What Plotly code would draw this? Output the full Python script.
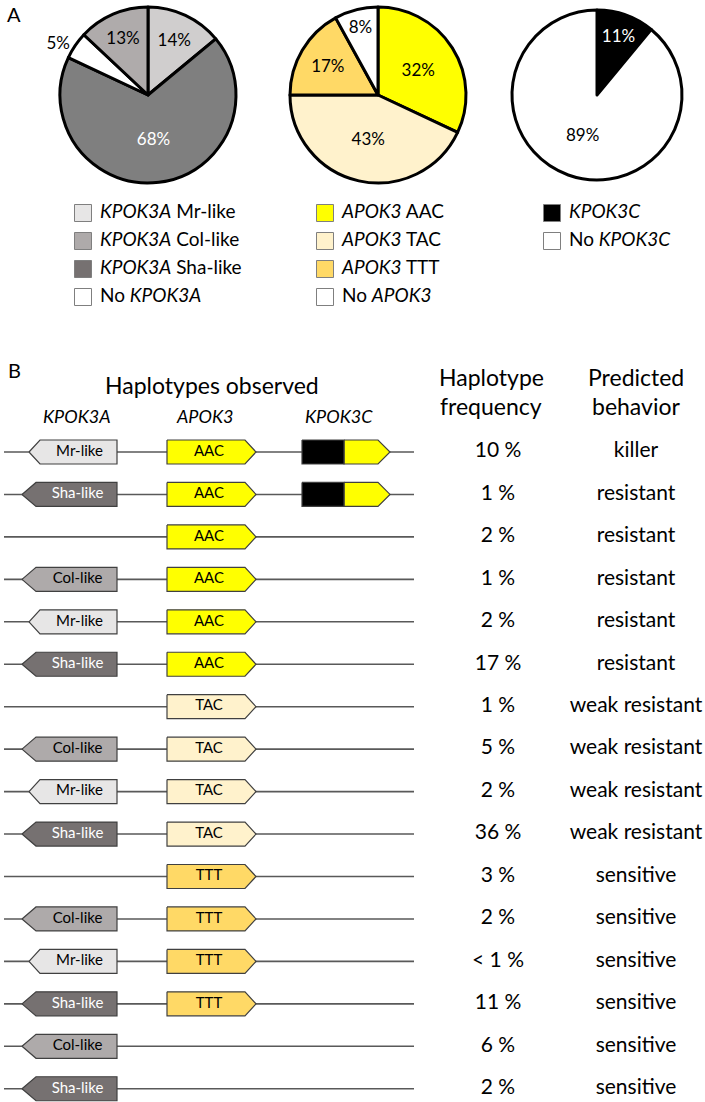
import plotly.graph_objects as go

FONT = "Lato, Carlito, 'Open Sans', sans-serif"

# ---------------- Part A data ----------------
pie1_values = [14, 68, 5, 13]
pie1_names = ["KPOK3A Mr-like", "KPOK3A Sha-like", "No KPOK3A", "KPOK3A Col-like"]
pie1_colors = ["#D0CECE", "#7F7F7F", "#FFFFFF", "#AFABAB"]
pie1_textcolors = ["black", "white", "black", "black"]
pie1_textpos = ["inside", "inside", "outside", "inside"]

pie2_values = [32, 43, 17, 8]
pie2_names = ["APOK3 AAC", "APOK3 TAC", "APOK3 TTT", "No APOK3"]
pie2_colors = ["#FFFF00", "#FFF2CC", "#FFD966", "#FFFFFF"]
pie2_textcolors = ["black", "black", "black", "black"]

pie3_values = [11, 89]
pie3_names = ["KPOK3C", "No KPOK3C"]
pie3_colors = ["#000000", "#FFFFFF"]
pie3_textcolors = ["white", "black"]

legend1_text = ["<i>KPOK3A</i> Mr-like", "<i>KPOK3A</i> Col-like", "<i>KPOK3A</i> Sha-like", "No <i>KPOK3A</i>"]
legend1_colors = ["#E7E6E6", "#AEAAAA", "#767171", "#FFFFFF"]
legend2_text = ["<i>APOK3</i> AAC", "<i>APOK3</i> TAC", "<i>APOK3</i> TTT", "No <i>APOK3</i>"]
legend2_colors = ["#FFFF00", "#FFF2CC", "#FFD966", "#FFFFFF"]
legend3_text = ["<i>KPOK3C</i>", "No <i>KPOK3C</i>"]
legend3_colors = ["#000000", "#FFFFFF"]

# ---------------- Part B data ----------------
kpok3a = ["Mr", "Sha", None, "Col", "Mr", "Sha", None, "Col", "Mr", "Sha",
          None, "Col", "Mr", "Sha", "Col", "Sha"]
apok3 = ["AAC", "AAC", "AAC", "AAC", "AAC", "AAC", "TAC", "TAC", "TAC", "TAC",
         "TTT", "TTT", "TTT", "TTT", None, None]
kpok3c = [True, True] + [False] * 14
freq = ["10 %", "1 %", "2 %", "1 %", "2 %", "17 %", "1 %", "5 %", "2 %", "36 %",
        "3 %", "2 %", "< 1 %", "11 %", "6 %", "2 %"]
behavior = ["killer"] + ["resistant"] * 5 + ["weak resistant"] * 4 + ["sensitive"] * 6

# ---------------- styles ----------------
K3A_STYLE = {
    "Mr": dict(label="Mr-like", fill="#E7E6E6", font="black", tip=29, shoulder=40),
    "Col": dict(label="Col-like", fill="#AEAAAA", font="black", tip=22, shoulder=36),
    "Sha": dict(label="Sha-like", fill="#767171", font="white", tip=22, shoulder=36),
}
APOK_FILL = {"AAC": "#FFFF00", "TAC": "#FFF2CC", "TTT": "#FFD966"}
OUTLINE = "#404040"
BACKBONE = "#595959"

ROW0 = 452
ROWSTEP = 42.45
HALF = 12

fig = go.Figure()

# ---------------- pies ----------------
def pie_domain(cx, cy, r):
    return dict(x=[(cx - r) / 705, (cx + r) / 705], y=[1 - (cy + r) / 1102, 1 - (cy - r) / 1102])

for vals, names, cols, tcols, tpos, (cx, cy, r) in [
    (pie1_values, pie1_names, pie1_colors, pie1_textcolors, pie1_textpos, (148, 95, 88)),
    (pie2_values, pie2_names, pie2_colors, pie2_textcolors, "inside", (378, 95, 88)),
    (pie3_values, pie3_names, pie3_colors, pie3_textcolors, "inside", (597, 95, 85)),
]:
    fig.add_trace(go.Pie(
        values=vals, labels=names, sort=False, direction="clockwise", rotation=0,
        marker=dict(colors=cols, line=dict(color="black", width=3)),
        texttemplate="%{value}%", textposition=tpos,
        insidetextorientation="horizontal",
        textfont=dict(family=FONT, size=17, color=tcols),
        domain=pie_domain(cx, cy, r), hoverinfo="skip", showlegend=False,
    ))

# ---------------- legend of part A ----------------
LEG_Y = [213, 241, 269, 297]
for texts, cols, bx in [(legend1_text, legend1_colors, 83),
                        (legend2_text, legend2_colors, 325),
                        (legend3_text, legend3_colors, 552)]:
    ys = LEG_Y[:len(texts)]
    fig.add_trace(go.Scatter(
        x=[bx] * len(texts), y=ys, mode="markers", cliponaxis=False,
        marker=dict(symbol="square", size=17, color=cols, line=dict(color="#7F7F7F", width=1)),
        hoverinfo="skip", showlegend=False))
    fig.add_trace(go.Scatter(
        x=[bx + 17] * len(texts), y=ys, mode="text", text=texts, textposition="middle right",
        cliponaxis=False,
        textfont=dict(family=FONT, size=19, color="black"),
        hoverinfo="skip", showlegend=False))

# ---------------- part B haplotypes ----------------
def poly(xs, ys, fill):
    fig.add_trace(go.Scatter(x=xs + [xs[0]], y=ys + [ys[0]], mode="lines", fill="toself",
                             fillcolor=fill, line=dict(color=OUTLINE, width=1.2),
                             cliponaxis=False, hoverinfo="skip", showlegend=False))

lab_x, lab_y, lab_t, lab_c = [], [], [], []
for i in range(len(freq)):
    y = ROW0 + i * ROWSTEP
    # backbone
    fig.add_trace(go.Scatter(x=[4, 414], y=[y, y], mode="lines",
                             line=dict(color=BACKBONE, width=1.6), cliponaxis=False,
                             hoverinfo="skip", showlegend=False))
    a = kpok3a[i]
    if a:
        s = K3A_STYLE[a]
        poly([s["tip"], s["shoulder"], 117, 117, s["shoulder"]],
             [y, y - HALF, y - HALF, y + HALF, y + HALF], s["fill"])
        lab_x.append((s["shoulder"] + 117) / 2 + 1); lab_y.append(y)
        lab_t.append(s["label"]); lab_c.append(s["font"])
    p = apok3[i]
    if p:
        poly([167, 245, 256, 245, 167],
             [y - HALF, y - HALF, y, y + HALF, y + HALF], APOK_FILL[p])
        lab_x.append(209); lab_y.append(y); lab_t.append(p); lab_c.append("black")
    if kpok3c[i]:
        poly([344, 378, 390, 378, 344],
             [y - HALF, y - HALF, y, y + HALF, y + HALF], "#FFFF00")
        poly([302, 344, 344, 302], [y - HALF, y - HALF, y + HALF, y + HALF], "#000000")

fig.add_trace(go.Scatter(x=lab_x, y=lab_y, mode="text", text=lab_t, cliponaxis=False,
                         textfont=dict(family=FONT, size=15, color=lab_c),
                         hoverinfo="skip", showlegend=False))

row_y = [ROW0 + i * ROWSTEP for i in range(len(freq))]
fig.add_trace(go.Scatter(x=[498] * len(freq), y=row_y, mode="text", text=freq, cliponaxis=False,
                         textfont=dict(family=FONT, size=21, color="black"),
                         hoverinfo="skip", showlegend=False))
fig.add_trace(go.Scatter(x=[636] * len(behavior), y=row_y, mode="text", text=behavior,
                         cliponaxis=False,
                         textfont=dict(family=FONT, size=21, color="black"),
                         hoverinfo="skip", showlegend=False))

# ---------------- headers ----------------
def note(x, y, t, size, italic=False, yanchor="middle"):
    fig.add_annotation(x=x, y=y, xref="x", yref="y", text=f"<i>{t}</i>" if italic else t,
                       showarrow=False, yanchor=yanchor,
                       font=dict(family=FONT, size=size, color="black"))

note(14, 0, "A", 20, yanchor="top")
note(14, 370, "B", 20)
note(212, 385, "Haplotypes observed", 23)
note(77, 416, "KPOK3A", 18, True)
note(204, 416, "APOK3", 18, True)
note(339, 416, "KPOK3C", 18, True)
note(491, 377, "Haplotype", 23)
note(491, 406, "frequency", 23)
note(636, 377, "Predicted", 23)
note(636, 406, "behavior", 23)

fig.update_layout(
    width=705, height=1102, margin=dict(l=0, r=0, t=0, b=0),
    paper_bgcolor="white", plot_bgcolor="white", showlegend=False,
    xaxis=dict(range=[0, 705], visible=False, fixedrange=True),
    yaxis=dict(range=[1102, 0], visible=False, fixedrange=True),
)

fig.write_html("out.html", config={"displayModeBar": False, "staticPlot": True},
               post_script="document.body.style.margin='0';document.body.style.overflow='hidden';")
